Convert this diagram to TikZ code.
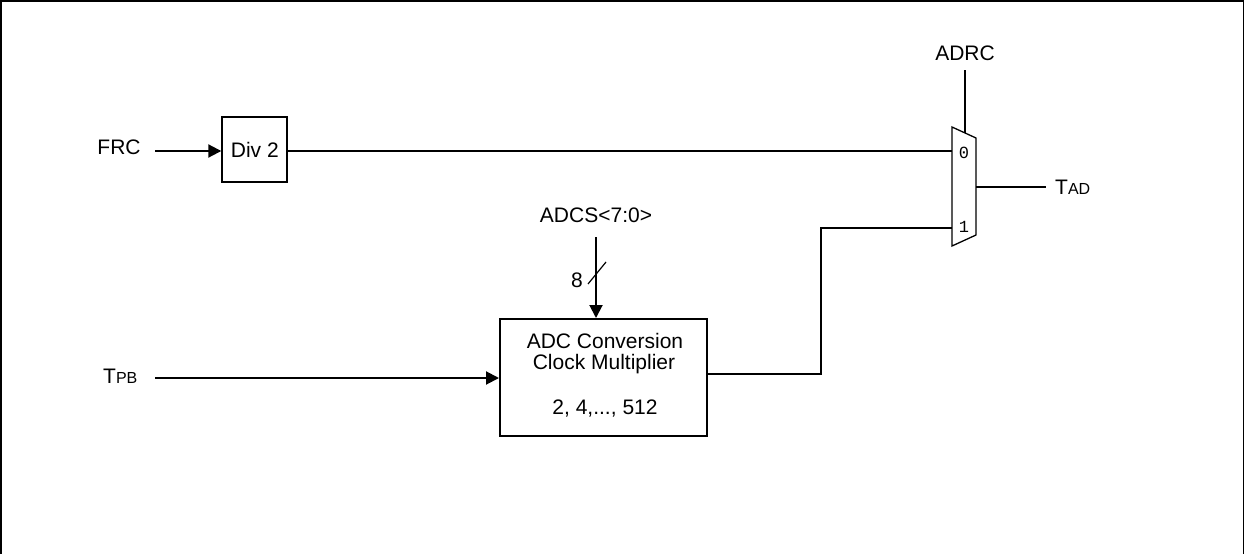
\documentclass[tikz,border=0pt]{standalone}
\usepackage{fontspec}
\setmainfont{Liberation Sans}
\newfontfamily\monof{Liberation Mono}
\usetikzlibrary{arrows.meta}
\tikzset{
  wire/.style={line width=2pt},
  arr/.style={wire,-{Triangle[length=13pt,width=13pt]}},
  blk/.style={draw,line width=2pt,inner sep=0pt},
  txt/.style={inner sep=0pt,font=\fontsize{21}{25}\selectfont},
  muxlbl/.style={inner sep=0pt,font=\monof\fontsize{17}{19}\selectfont},
}
\begin{document}
\begin{tikzpicture}[x=1pt,y=-1pt]
\useasboundingbox (0,0) rectangle (1245,554);
% frame (open at bottom)
\draw[line width=1.5pt] (0.75,554) -- (0.75,0.75) -- (1243.5,0.75) -- (1243.5,554);

% FRC path
\node[txt] (frc) at (119,147) {FRC};
\node[blk,minimum width=65pt,minimum height=65pt] (div) at (254.8,149.5) {};
\node[txt] at (div.center) {Div 2};
\coordinate (frcr) at (155,151);
\draw[arr] (frcr) -- (div.west |- frcr);

% multiplexer
\coordinate (mtl) at (952,127);
\coordinate (mbl) at (952,246);
\coordinate (mtr) at (976,138);
\coordinate (mbr) at (976,235);
\draw[line width=1.3pt] (mtl) -- (mtr) -- (mbr) -- (mbl) -- cycle;
\coordinate (in0) at (952,151);
\coordinate (in1) at (952,228);
\coordinate (mout) at (976,187);
\coordinate (msel) at (965,133);
\node[muxlbl] (l0) at (964,153) {0};
\node[muxlbl] (l1) at (964,227) {1};
\draw[wire] (div.east |- in0) -- (in0);

% ADRC select
\node[txt] (adrc) at (965,53) {ADRC};
\coordinate (adrcb) at (965,70);
\draw[wire] (adrcb) -- (msel);

% TAD output
\node[txt,anchor=west] (tad) at (1055,187) {T{\fontsize{16}{18}\selectfont AD}};
\coordinate (tadl) at (1046,187);
\draw[wire] (mout) -- (tadl);

% ADC clock multiplier
\node[blk,minimum width=207pt,minimum height=117pt] (adc) at (603.5,377.5) {};
\node[txt] (t1) at (605,341) {ADC Conversion};
\node[txt] (t2) at (604,364) {Clock Multiplier};
\node[txt] (t3) at (605,409) {2, 4,..., 512};

% ADCS input
\node[txt] (adcs) at (596,215) {ADCS<7:0>};
\coordinate (adcsb) at (596,237);
\draw[arr] (adcsb) -- (adcsb |- adc.north);
\coordinate (sl1) at (588,284);
\coordinate (sl2) at (606,262);
\draw[line width=1.2pt] (sl1) -- (sl2);
\node[txt] (eight) at (577,280) {8};

% TPB input
\node[txt,anchor=west] (tpb) at (103,376) {T{\fontsize{16}{18}\selectfont PB}};
\coordinate (tpbr) at (155,378);
\draw[arr] (tpbr) -- (adc.west |- tpbr);

% ADC output to mux input 1
\coordinate (bend) at (821,374);
\draw[wire] (adc.east |- bend) -- (bend) -- (bend |- in1) -- (in1);
\end{tikzpicture}
\end{document}
